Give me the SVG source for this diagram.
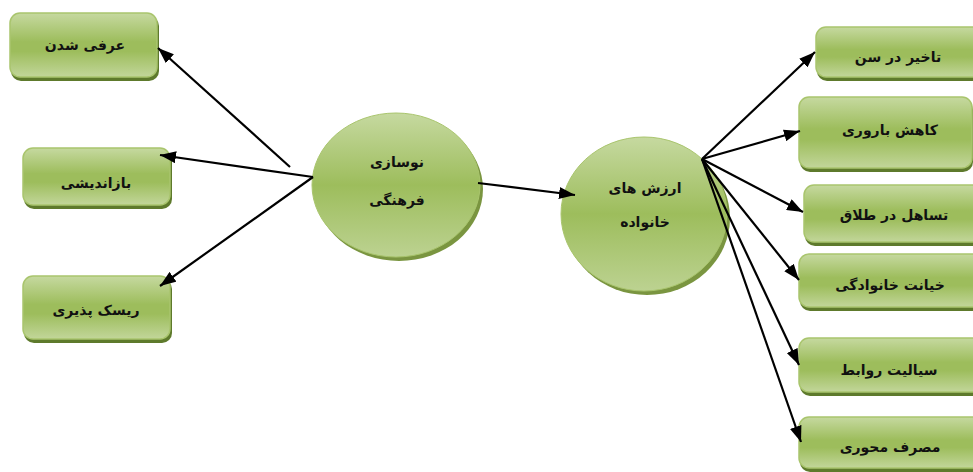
<svg xmlns="http://www.w3.org/2000/svg" width="973" height="472" viewBox="0 0 973 472">
<defs>
<linearGradient id="gb" x1="0" y1="0" x2="0" y2="1">
<stop offset="0" stop-color="#c6d9a0"/>
<stop offset="0.45" stop-color="#9dbd5c"/>
<stop offset="0.6" stop-color="#9dbd5c"/>
<stop offset="1" stop-color="#c2d69a"/>
</linearGradient>
<linearGradient id="gc" x1="0" y1="0" x2="0" y2="1">
<stop offset="0" stop-color="#c6d9a0"/>
<stop offset="0.5" stop-color="#9dbd5c"/>
<stop offset="1" stop-color="#bcd291"/>
</linearGradient>
<marker id="a" viewBox="0 0 16 12" refX="16" refY="6" markerWidth="16" markerHeight="12" markerUnits="userSpaceOnUse" orient="auto">
<path d="M0,0 L16,6 L0,12 z" fill="#000"/>
</marker>
</defs>
<style>
.sh{fill:#5e7a2c}
.bx{fill:url(#gb);stroke:#a9c56d;stroke-width:1.5}
.ci{fill:url(#gc);stroke:#a9c56d;stroke-width:1}
.csh{fill:#7a9540}
.t{font-family:"DejaVu Sans",sans-serif;font-weight:bold;font-size:14px;fill:#111;text-anchor:middle;dominant-baseline:central}
.c{stroke:#000;stroke-width:2.2;fill:none;marker-end:url(#a)}
</style>

<g id="n-orfi">
<rect class="sh" x="11" y="16" width="148" height="65" rx="10"/>
<rect class="bx" x="10" y="13" width="147" height="64" rx="10"/>
<text class="t" x="85" y="45">عرفی شدن</text>
</g>
<g id="n-baz">
<rect class="sh" x="24" y="151" width="148" height="58" rx="10"/>
<rect class="bx" x="23" y="148" width="147" height="57" rx="10"/>
<text class="t" x="96" y="183">بازاندیشی</text>
</g>
<g id="n-risk">
<rect class="sh" x="24" y="279" width="148" height="64" rx="10"/>
<rect class="bx" x="23" y="276" width="147" height="63" rx="10"/>
<text class="t" x="96" y="310">ریسک پذیری</text>
</g>

<g id="n-nosazi">
<ellipse class="csh" cx="399" cy="189" rx="84" ry="72"/>
<ellipse class="ci" cx="396" cy="185" rx="84" ry="72"/>
<text class="t" x="397" y="162">نوسازی</text>
<text class="t" x="397" y="200">فرهنگی</text>
</g>
<g id="n-arzesh">
<ellipse class="csh" cx="647" cy="218" rx="83" ry="77"/>
<ellipse class="ci" cx="644" cy="214" rx="83" ry="77"/>
<text class="t" x="645" y="188">ارزش های</text>
<text class="t" x="645" y="222">خانواده</text>
</g>

<g id="n-takhir">
<rect class="sh" x="817" y="30" width="180" height="51" rx="10"/>
<rect class="bx" x="816" y="27" width="180" height="50" rx="10"/>
<text class="t" x="898" y="57">تاخیر در سن</text>
</g>
<g id="n-kahesh">
<rect class="sh" x="800" y="100" width="173" height="72" rx="10"/>
<rect class="bx" x="799" y="97" width="173" height="71" rx="10"/>
<text class="t" x="890" y="130">کاهش باروری</text>
</g>
<g id="n-tasahol">
<rect class="sh" x="805" y="188" width="185" height="58" rx="10"/>
<rect class="bx" x="804" y="185" width="185" height="57" rx="10"/>
<text class="t" x="894" y="215">تساهل در طلاق</text>
</g>
<g id="n-khianat">
<rect class="sh" x="800" y="257" width="185" height="54" rx="10"/>
<rect class="bx" x="799" y="254" width="185" height="53" rx="10"/>
<text class="t" x="890" y="285">خیانت خانوادگی</text>
</g>
<g id="n-sayaliat">
<rect class="sh" x="800" y="341" width="185" height="55" rx="10"/>
<rect class="bx" x="799" y="338" width="185" height="54" rx="10"/>
<text class="t" x="889" y="370">سیالیت روابط</text>
</g>
<g id="n-masraf">
<rect class="sh" x="800" y="420" width="185" height="52" rx="10"/>
<rect class="bx" x="799" y="417" width="185" height="51" rx="10"/>
<text class="t" x="890" y="447">مصرف محوری</text>
</g>

<g id="connectors">
<line class="c" x1="290" y1="167" x2="158" y2="48"/>
<line class="c" x1="313" y1="177" x2="160" y2="155"/>
<line class="c" x1="313" y1="177" x2="160" y2="286"/>
<line class="c" x1="478" y1="183" x2="575" y2="195"/>
<line class="c" x1="702" y1="159" x2="815" y2="52"/>
<line class="c" x1="702" y1="159" x2="800" y2="131"/>
<line class="c" x1="702" y1="159" x2="803" y2="212"/>
<line class="c" x1="702" y1="159" x2="799" y2="280"/>
<line class="c" x1="702" y1="159" x2="799" y2="365"/>
<line class="c" x1="702" y1="159" x2="801" y2="442"/>
</g>
</svg>
